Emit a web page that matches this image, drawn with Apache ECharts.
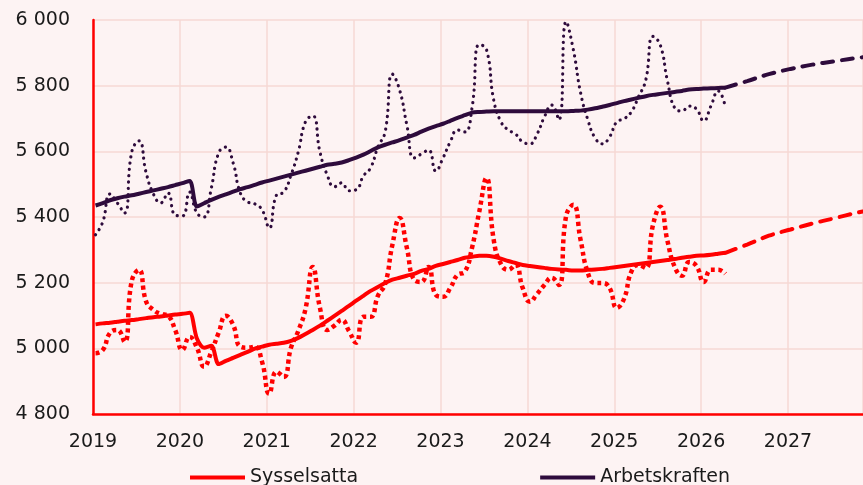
<!DOCTYPE html>
<html>
<head>
<meta charset="utf-8">
<script src="https://cdn.jsdelivr.net/npm/echarts@6/dist/echarts.min.js"></script>
<style>
  html, body { margin: 0; padding: 0; background: #fdf3f3; }
  #main { width: 863px; height: 485px; }
</style>
</head>
<body>
<div id="main"></div>
<script>
// monthly data, Jan 2019 .. Apr 2026 (index 0 = Jan 2019)
var sysselsattaRaw = [
  4985, 4995, 5047, 5056, 5020, 5205, 5239, 5142, 5117, 5105, 5099, 5056,
  4995, 5035, 5002, 4944, 4990, 5047, 5099, 5072, 5005, 5002, 5005, 4959,
  4862, 4929, 4913, 5002, 5053, 5120, 5248, 5123, 5056, 5069, 5087, 5053,
  5017, 5096, 5096, 5160, 5196, 5315, 5397, 5306, 5209, 5202, 5248, 5163,
  5157, 5184, 5224, 5233, 5306, 5416, 5519, 5330, 5257, 5239, 5254, 5184,
  5142, 5166, 5193, 5215, 5193, 5403, 5437, 5330, 5230, 5199, 5199, 5184,
  5123, 5151, 5233, 5254, 5245, 5376, 5431, 5327, 5248, 5221, 5263, 5251,
  5202, 5239, 5239, 5227
];
var sysselsattaTrend = [
  5073, 5076, 5078, 5081, 5084, 5086, 5089, 5092, 5095, 5097, 5100, 5103,
  5105, 5108, 5030, 5002, 5008, 4952, 4962, 4971, 4980, 4989, 4999, 5005,
  5011, 5014, 5017, 5023, 5032, 5044, 5056, 5069, 5084, 5099, 5114, 5129,
  5145, 5160, 5175, 5187, 5199, 5209, 5215, 5221, 5227, 5236, 5242, 5251,
  5257, 5263, 5269, 5276, 5279, 5282, 5282, 5279, 5273, 5266, 5260, 5254,
  5251, 5248, 5245, 5242, 5240, 5239, 5237, 5237, 5239, 5240, 5242, 5245,
  5248, 5251, 5254, 5257, 5260, 5263, 5266, 5269, 5272, 5276, 5279, 5282,
  5283, 5285, 5288, 5291
];
var arbetskraftenRaw = [
  5346, 5385, 5470, 5443, 5412, 5598, 5632, 5534, 5470, 5443, 5473, 5406,
  5403, 5476, 5412, 5400, 5489, 5595, 5613, 5565, 5473, 5446, 5440, 5422,
  5367, 5467, 5476, 5528, 5598, 5690, 5708, 5598, 5528, 5492, 5504, 5480,
  5483, 5525, 5550, 5613, 5659, 5835, 5787, 5680, 5580, 5592, 5604, 5540,
  5580, 5629, 5665, 5659, 5732, 5925, 5910, 5756, 5690, 5665, 5653, 5629,
  5623, 5653, 5705, 5741, 5696, 5995, 5909, 5778, 5696, 5641, 5623, 5644,
  5690, 5699, 5720, 5766, 5817, 5950, 5924, 5814, 5732, 5723, 5738, 5729,
  5693, 5738, 5784, 5735
];
var arbetskraftenTrend = [
  5435, 5442, 5451, 5457, 5462, 5466, 5471, 5476, 5481, 5486, 5491, 5497,
  5503, 5510, 5432, 5442, 5452, 5461, 5469, 5477, 5485, 5491, 5498, 5505,
  5511, 5517, 5523, 5529, 5535, 5541, 5547, 5553, 5559, 5562, 5566, 5573,
  5581, 5590, 5601, 5612, 5620, 5627, 5634, 5642, 5650, 5660, 5669, 5677,
  5684, 5693, 5702, 5710, 5718, 5720, 5721, 5722, 5722, 5722, 5722, 5722,
  5722, 5722, 5722, 5722, 5722, 5722, 5723, 5724, 5727, 5731, 5736, 5741,
  5747, 5753, 5758, 5763, 5768, 5772, 5775, 5778, 5781, 5784, 5788, 5790,
  5791, 5792, 5793, 5794
];
// forecast (quarterly steps, month index from Jan 2019)
var prognosMonths = [87, 90, 93, 96, 99, 102, 105, 108];
var sysselsattaPrognos = [5291, 5316, 5343, 5362, 5380, 5396, 5412, 5426];
var arbetskraftenPrognos = [5794, 5814, 5835, 5851, 5864, 5874, 5884, 5891];

var startYear = 2019;
var RED = '#ff0000';
var PURPLE = '#2e0b3c';
var FONT = 'DejaVu Sans';

function monthToYear(i) {
  return startYear + (i + 0.35) / 12;
}
function monthly(vals) {
  return vals.map(function (v, i) { return [monthToYear(i), v]; });
}
function prognos(vals) {
  return vals.map(function (v, i) { return [monthToYear(prognosMonths[i]), v]; });
}

var chart = echarts.init(document.getElementById('main'));

var option = {
  animation: false,
  backgroundColor: '#fdf3f3',
  grid: { left: 93, right: 0, top: 20, bottom: 71, outerBoundsMode: 'none' },
  legend: {
    data: ['Sysselsatta', 'Arbetskraften'],
    left: 185,
    top: 463,
    icon: 'rect',
    itemWidth: 55,
    itemHeight: 4,
    itemGap: 182,
    textStyle: { fontSize: 19, color: '#1a1a1a', fontFamily: FONT }
  },
  xAxis: {
    type: 'value',
    min: 2019,
    max: 2027.863,
    interval: 1,
    axisLine: { lineStyle: { color: RED, width: 2.5 } },
    axisTick: { show: false },
    axisLabel: {
      fontSize: 19, color: '#1a1a1a', fontFamily: FONT, margin: 19,
      formatter: function (v) { return Number.isInteger(v) ? String(v) : ''; }
    },
    splitLine: { show: true, lineStyle: { color: '#f6d8d4', width: 1.5 } }
  },
  yAxis: {
    type: 'value',
    min: 4800,
    max: 6000,
    interval: 200,
    axisLine: { show: true, lineStyle: { color: RED, width: 2.5 } },
    axisTick: { show: false },
    axisLabel: {
      fontSize: 19, color: '#1a1a1a', fontFamily: FONT, margin: 23,
      formatter: function (v) {
        return String(v).replace(/\B(?=(\d{3})+(?!\d))/g, ' ');
      }
    },
    splitLine: { lineStyle: { color: '#f6d8d4', width: 1.5 } }
  },
  series: [
    {
      name: 'Arbetskraften ej säsongsrensad', type: 'line', smooth: 0.5,
      showSymbol: false, color: PURPLE,
      lineStyle: { width: 3.2, type: [0.1, 6.2], cap: 'round' },
      data: monthly(arbetskraftenRaw)
    },
    {
      name: 'Arbetskraften', type: 'line', smooth: 0.3,
      showSymbol: false, color: PURPLE,
      lineStyle: { width: 4 },
      data: monthly(arbetskraftenTrend)
    },
    {
      name: 'Arbetskraften prognos', type: 'line', smooth: 0.4,
      showSymbol: false, color: PURPLE,
      lineStyle: { width: 4, type: [11, 9], cap: 'round' },
      data: prognos(arbetskraftenPrognos)
    },
    {
      name: 'Sysselsatta ej säsongsrensad', type: 'line', smooth: 0.5,
      showSymbol: false, color: RED,
      lineStyle: { width: 4.5, type: [4, 3.5] },
      data: monthly(sysselsattaRaw)
    },
    {
      name: 'Sysselsatta', type: 'line', smooth: 0.3,
      showSymbol: false, color: RED,
      lineStyle: { width: 4 },
      data: monthly(sysselsattaTrend)
    },
    {
      name: 'Sysselsatta prognos', type: 'line', smooth: 0.4,
      showSymbol: false, color: RED,
      lineStyle: { width: 4, type: [11, 9], cap: 'round' },
      data: prognos(sysselsattaPrognos)
    }
  ]
};

chart.setOption(option);
</script>
</body>
</html>
